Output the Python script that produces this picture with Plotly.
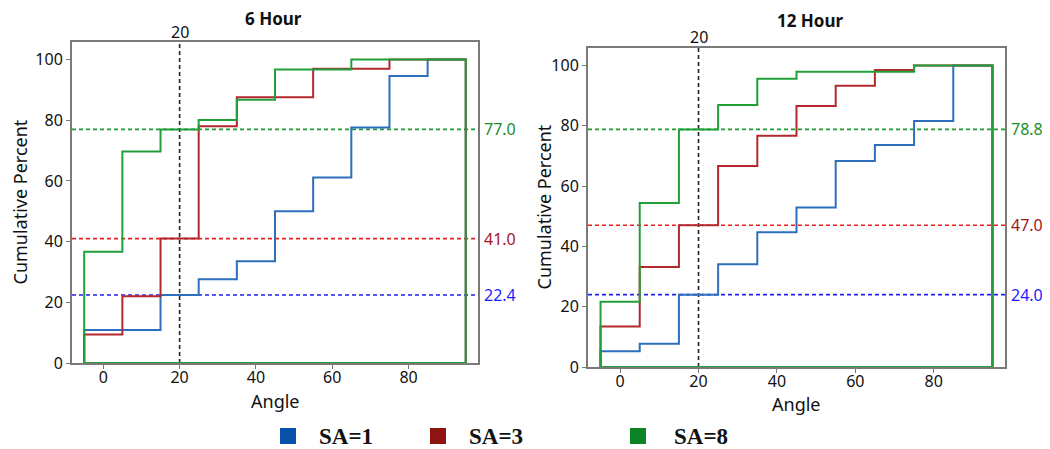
import plotly.graph_objects as go

# ---------------- data ----------------
bin_edges = [-5, 5, 15, 25, 35, 45, 55, 65, 75, 85, 95]   # bins centred at 0,10,...,90
panels = ["6 Hour", "12 Hour"]
series_names = ["SA=1", "SA=3", "SA=8"]

h6_sa1 = [10.9, 10.9, 22.4, 27.6, 33.5, 50.0, 61.1, 77.6, 94.6, 100.0]
h6_sa3 = [9.4, 22.0, 41.0, 78.0, 87.6, 87.6, 97.0, 97.0, 100.0, 100.0]
h6_sa8 = [36.7, 69.7, 77.0, 80.1, 86.8, 96.7, 96.7, 100.0, 100.0, 100.0]
h6_ref = [22.4, 41.0, 77.0]

h12_sa1 = [5.2, 7.7, 24.0, 34.1, 44.7, 52.9, 68.3, 73.6, 81.6, 100.0]
h12_sa3 = [13.4, 33.2, 47.0, 66.7, 76.7, 86.6, 93.3, 98.5, 100.0, 100.0]
h12_sa8 = [21.6, 54.4, 78.8, 86.9, 95.6, 97.9, 97.9, 97.9, 100.0, 100.0]
h12_ref = [24.0, 47.0, 78.8]

ref_angle = 20
x_ticks = [0, 20, 40, 60, 80]
y_ticks = [0, 20, 40, 60, 80, 100]

# ---------------- styles ----------------
step_colors = ["#2e6fbd", "#b2282c", "#21a03a"]
ref_colors = ["#2020f0", "#e62020", "#1f9a30"]
lab_colors = ["#1c1cff", "#a3141c", "#18902a"]
legend_colors = ["#0a52a8", "#8e1414", "#0a8424"]
FONT = "Noto Sans"

WIN_W, WIN_H = 1050, 449
OFF = 8                      # default page body margin
W, H = WIN_W - OFF, WIN_H - OFF

def px(x):
    return (x - OFF) / W

def py(y):
    return 1 - (y - OFF) / H

# panel frames in window pixels: (x0, x1, ytop, ybottom)
frames = [(72, 478, 42, 363), (588, 1005, 48, 367)]
xr = [-8.2, 98.2]
yr = [0, 105.8]

fig = go.Figure()

def step_xy(vals):
    xs = [bin_edges[0]] + bin_edges + [bin_edges[-1], bin_edges[0]]
    ys = [0] + vals + [vals[-1], 0, 0]
    return xs, ys

data = [[h6_sa1, h6_sa3, h6_sa8], [h12_sa1, h12_sa3, h12_sa8]]
refs = [h6_ref, h12_ref]

for p in range(2):
    xa = "x" if p == 0 else "x2"
    ya = "y" if p == 0 else "y2"
    for k, v in enumerate(refs[p]):
        fig.add_trace(go.Scatter(x=xr, y=[v, v], mode="lines", xaxis=xa, yaxis=ya,
                                 line=dict(color=ref_colors[k], width=1.6, dash="4px,3px"),
                                 showlegend=False, hoverinfo="skip"))
    fig.add_trace(go.Scatter(x=[ref_angle, ref_angle], y=yr, mode="lines", xaxis=xa, yaxis=ya,
                             line=dict(color="#222222", width=1.6, dash="4px,3px"),
                             showlegend=False, hoverinfo="skip"))
    for s in range(3):
        xs, ys = step_xy(data[p][s])
        fig.add_trace(go.Scatter(x=xs, y=ys, mode="lines", line_shape="hv",
                                 xaxis=xa, yaxis=ya,
                                 line=dict(color=step_colors[s], width=2),
                                 name=series_names[s], showlegend=False))

axis_common = dict(showline=True, mirror=True, linecolor="#7a7a7a", linewidth=2,
                   ticks="outside", tickcolor="#7a7a7a", ticklen=4, tickwidth=1,
                   showgrid=False, zeroline=False, automargin=False,
                   tickfont=dict(family=FONT, size=16, color="#111111"))

for p in range(2):
    x0, x1, yt, yb = frames[p]
    xd = [px(x0), px(x1)]
    yd = [py(yb), py(yt)]
    sfx = "" if p == 0 else "2"
    fig.layout["xaxis" + sfx] = dict(axis_common, domain=xd, range=xr, tickvals=x_ticks,
                                     anchor="y" + sfx, ticklabelstandoff=-5)
    fig.layout["yaxis" + sfx] = dict(axis_common, domain=yd, range=yr, tickvals=y_ticks,
                                     anchor="x" + sfx)

annotations = []
title_pos = [(273, 19), (810, 21)]
top20_y = [32, 37]
ytitle_x = [19, 544]
angle_y = [401, 404]
for p in range(2):
    x0, x1, yt, yb = frames[p]
    sfx = "" if p == 0 else "2"
    annotations.append(dict(text="<b>" + panels[p] + "</b>", xref="paper", yref="paper",
                            x=px(title_pos[p][0]), y=py(title_pos[p][1]),
                            showarrow=False, font=dict(family=FONT, size=17, color="#111"),
                            xanchor="center", yanchor="middle"))
    annotations.append(dict(text=str(ref_angle), xref="x" + sfx, yref="paper",
                            x=ref_angle, y=py(top20_y[p]), showarrow=False,
                            font=dict(family=FONT, size=16, color="#111"),
                            xanchor="center", yanchor="middle"))
    annotations.append(dict(text="Angle", xref="paper", yref="paper",
                            x=px((x0 + x1) / 2), y=py(angle_y[p]), showarrow=False,
                            font=dict(family=FONT, size=18, color="#111"),
                            xanchor="center", yanchor="middle"))
    annotations.append(dict(text="Cumulative Percent", xref="paper", yref="paper",
                            x=px(ytitle_x[p]), y=py((yt + yb) / 2), showarrow=False,
                            textangle=-90, font=dict(family=FONT, size=18, color="#111"),
                            xanchor="center", yanchor="middle"))
    for k, v in enumerate(refs[p]):
        annotations.append(dict(text=f"{v:.1f}", xref="paper", yref="y" + sfx,
                                x=px(x1 + 4), y=v, showarrow=False,
                                font=dict(family=FONT, size=16, color=lab_colors[k]),
                                xanchor="left", yanchor="middle"))

# legend (manual, bottom)
shapes = []
sq_x = [280, 430, 630]
txt_x = [317, 467, 672]
ly = 436
for s in range(3):
    shapes.append(dict(type="rect", xref="paper", yref="paper",
                       x0=px(sq_x[s]), x1=px(sq_x[s] + 16),
                       y0=py(ly + 8), y1=py(ly - 8),
                       fillcolor=legend_colors[s], line=dict(width=0)))
    annotations.append(dict(text="<b>" + series_names[s] + "</b>", xref="paper", yref="paper",
                            x=px(txt_x[s]), y=py(ly), showarrow=False,
                            font=dict(family="Liberation Serif", size=23, color="#111"),
                            xanchor="left", yanchor="middle"))

fig.update_layout(width=W, height=H, margin=dict(l=0, r=0, t=0, b=0),
                  paper_bgcolor="white", plot_bgcolor="white",
                  annotations=annotations, shapes=shapes, showlegend=False)

fig.write_html("out.html")
